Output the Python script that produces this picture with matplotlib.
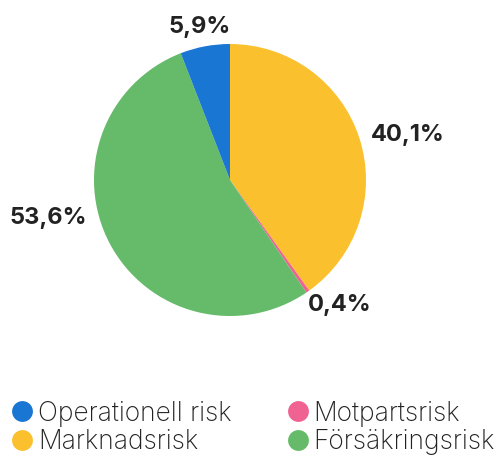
import matplotlib.pyplot as plt
from matplotlib.lines import Line2D

# data
categories = ["Marknadsrisk", "Motpartsrisk", "Försäkringsrisk", "Operationell risk"]
values = [40.1, 0.4, 53.6, 5.9]
value_labels = ["40,1%", "0,4%", "53,6%", "5,9%"]
colors = ["#FBC02D", "#F06292", "#66BB6A", "#1976D2"]
legend_order = ["Operationell risk", "Marknadsrisk", "Motpartsrisk", "Försäkringsrisk"]

# label placement (axes data units, radius = 1)
label_pos = [(1.31, 0.33), (0.81, -0.92), (-1.34, -0.28), (-0.22, 1.125)]

plt.rcParams['font.family'] = ['Inter', 'DejaVu Sans']

W, H = 495, 455
fig = plt.figure(figsize=(W / 100, H / 100), dpi=100)
cx, cy, R = 230, 180, 136
ax = fig.add_axes([(cx - R) / W, (H - cy - R) / H, 2 * R / W, 2 * R / H])

ax.pie(values, colors=colors, startangle=90, counterclock=False,
       wedgeprops=dict(linewidth=0))
ax.set_xlim(-1, 1)
ax.set_ylim(-1, 1)
ax.set_aspect('equal')
ax.axis('off')

for (x, y), txt in zip(label_pos, value_labels):
    ax.text(x, y, txt, ha='center', va='center', fontsize=17,
            fontweight='bold', color='#222222', clip_on=False)

cmap = dict(zip(categories, colors))
handles = [Line2D([], [], marker='o', linestyle='', markersize=15,
                  markerfacecolor=cmap[c], markeredgewidth=0) for c in legend_order]
fig.legend(handles, legend_order, ncol=2, loc='upper left',
           bbox_to_anchor=(-0.003, 1 - 390 / H), frameon=False,
           prop=dict(size=19, weight='light'), handletextpad=0.1,
           columnspacing=2.0, labelspacing=0.1, borderaxespad=0,
           handlelength=1.0, labelcolor='#222222')

fig.savefig("out.png", dpi=100)
